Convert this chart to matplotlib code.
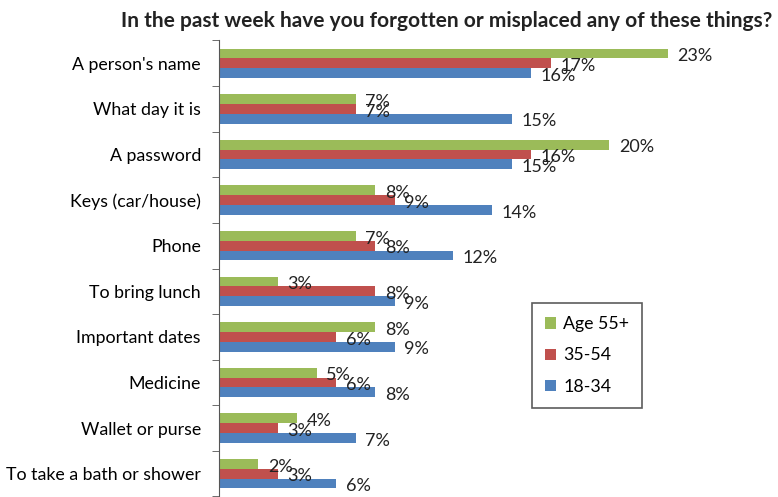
import matplotlib
matplotlib.use('Agg')
import matplotlib.pyplot as plt
import numpy as np

plt.rcParams['font.family'] = ['Lato', 'DejaVu Sans']

categories = ["A person's name", "What day it is", "A password", "Keys (car/house)",
              "Phone", "To bring lunch", "Important dates", "Medicine",
              "Wallet or purse", "To take a bath or shower"]
age_55 = [23, 7, 20, 8, 7, 3, 8, 5, 4, 2]
age_35 = [17, 7, 16, 9, 8, 8, 6, 6, 3, 3]
age_18 = [16, 15, 15, 14, 12, 9, 9, 8, 7, 6]
series_names = ['Age 55+', '35-54', '18-34']
colors = ['#9BBB59', '#C0504D', '#4F81BD']

# axes placement in pixels (top of axis 40, 45.6 px per category)
top_px, step_px = 40.5, 45.6
bottom_px = top_px + step_px * len(categories)
fig = plt.figure(figsize=(7.78, 4.97), dpi=100)
ax = fig.add_axes([219 / 778, 1 - bottom_px / 497, (778 - 219) / 778, (bottom_px - top_px) / 497])

y = np.arange(len(categories))
h = 0.215
for k, (vals, name, c) in enumerate(zip([age_55, age_35, age_18], series_names, colors)):
    pos = y + (k - 1) * h
    ax.barh(pos, vals, height=h, color=c, label=name)
    for yy, v in zip(pos, vals):
        ax.annotate('%d%%' % v, (v, yy), xytext=(7, -2), textcoords='offset points',
                    ha='left', va='center', fontsize=13, color='#222222')

ax.set_xlim(0, 559 / 19.5)
ax.set_ylim(len(categories) - 0.5, -0.5)
ax.set_yticks(y)
ax.set_yticklabels(categories, fontsize=12.8)
ax.set_yticks(np.arange(len(categories) + 1) - 0.5, minor=True)
ax.tick_params(axis='y', which='major', length=0, pad=13)
ax.tick_params(axis='y', which='minor', length=5, color='#555555')
ax.set_xticks([])
for s in ['top', 'right', 'bottom']:
    ax.spines[s].set_visible(False)
ax.spines['left'].set_color('#555555')

leg = ax.legend(loc='upper left',
                bbox_to_anchor=((532 - 219) / 559, (bottom_px - 303) / (bottom_px - top_px)),
                borderaxespad=0, fontsize=12.8, frameon=True, fancybox=False,
                edgecolor='#333333', handlelength=0.6, handleheight=0.6,
                labelspacing=0.85, borderpad=0.75, handletextpad=0.4)
leg.get_frame().set_linewidth(1.2)

fig.text(447 / 778, 1 - 21 / 497, 'In the past week have you forgotten or misplaced any of these things?',
         ha='center', va='center', fontsize=15, fontweight='bold', color='#222222')

fig.savefig('out.png', dpi=100)
